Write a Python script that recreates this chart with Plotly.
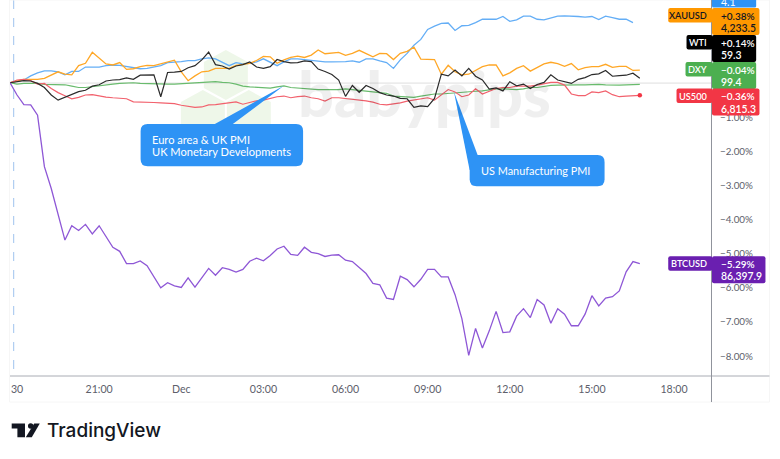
import pandas as pd
import plotly.graph_objects as go

START = "2025-11-30 17:45"
STEP = "15min"

xauusd = [0.01,0.06,0.11,0.11,0.11,0.14,0.23,0.33,0.26,0.24,0.51,0.58,0.90,0.72,0.56,0.53,0.60,0.40,0.42,0.48,0.52,0.51,0.56,0.62,0.67,0.33,0.07,0.21,0.33,0.35,0.43,0.43,0.43,0.52,0.55,0.58,0.66,0.78,0.77,0.58,0.68,0.75,0.79,0.75,0.82,0.97,0.86,0.87,0.90,0.81,0.87,0.96,0.87,0.77,0.87,0.86,
          0.69,0.87,0.93,1.05,0.70,0.69,0.69,0.26,0.52,0.33,0.24,0.26,0.37,0.48,0.53,0.53,0.21,0.30,0.43,0.51,0.35,0.45,0.56,0.61,0.57,0.49,0.57,0.39,0.45,0.48,0.48,0.55,0.46,0.49,0.49,0.37,0.38]
top_blue = [0.01,0.05,0.09,0.21,0.30,0.36,0.36,0.33,0.24,0.34,0.34,0.47,0.47,0.47,0.51,0.53,0.52,0.49,0.45,0.42,0.43,0.47,0.51,0.60,0.61,0.63,0.66,0.66,0.71,0.74,0.71,0.62,0.51,0.60,0.56,0.58,0.62,0.71,0.62,0.51,0.62,0.71,0.71,0.69,0.67,0.63,0.62,0.62,0.62,0.63,0.65,0.61,0.71,0.71,0.65,0.60,
            0.43,0.68,0.87,1.11,1.28,1.57,1.67,1.75,1.76,1.54,1.68,1.69,1.77,1.87,1.87,1.87,1.95,1.81,1.85,1.96,1.96,1.87,1.85,1.90,1.96,1.97,1.97,1.95,1.93,1.95,1.86,1.96,1.92,1.87,1.87,1.77]
wti = [0.01,0.04,0.07,0.06,-0.01,-0.13,-0.35,-0.50,-0.42,-0.33,-0.25,-0.21,-0.09,-0.05,0.06,0.09,0.10,0.15,0.11,0.23,0.24,0.24,-0.40,0.31,0.32,0.34,0.45,0.51,0.68,0.91,0.54,0.50,0.41,0.50,0.54,0.62,0.47,0.43,0.48,0.69,0.63,0.59,0.60,0.65,0.63,0.41,0.34,0.25,0.09,-0.39,-0.07,-0.27,-0.07,-0.16,-0.28,-0.35,
       -0.38,-0.45,-0.46,-0.71,-0.67,-0.69,-0.45,0.26,0.21,0.38,0.21,0.43,0.20,0.09,-0.18,-0.14,-0.23,0.04,-0.08,-0.03,-0.16,-0.04,0.02,0.24,0.09,0.04,-0.01,0.11,0.16,0.25,0.27,0.37,0.20,0.22,0.23,0.29,0.14]
dxy = [0.01,-0.03,-0.01,-0.01,-0.01,-0.04,-0.04,-0.05,-0.05,-0.09,-0.13,-0.13,-0.10,-0.07,-0.05,-0.03,-0.01,0.01,0.01,-0.01,-0.02,-0.02,-0.03,-0.03,-0.03,-0.02,-0.01,0.0,0.03,0.03,0.04,0.02,0.01,-0.03,-0.09,-0.11,-0.12,-0.15,-0.15,-0.11,-0.08,-0.13,-0.15,-0.17,-0.18,-0.19,-0.19,-0.20,-0.19,-0.17,-0.19,-0.23,-0.23,-0.25,-0.28,-0.30,
       -0.38,-0.40,-0.40,-0.42,-0.38,-0.35,-0.32,-0.32,-0.30,-0.29,-0.28,-0.26,-0.24,-0.23,-0.19,-0.17,-0.17,-0.19,-0.19,-0.17,-0.13,-0.13,-0.09,-0.07,-0.06,-0.05,-0.05,-0.05,-0.05,-0.04,-0.04,-0.05,-0.06,-0.06,-0.05,-0.04,-0.04]
us500 = [0.01,0.09,0.11,0.07,-0.03,-0.01,-0.16,-0.28,-0.37,-0.46,-0.42,-0.35,-0.34,-0.38,-0.41,-0.43,-0.45,-0.46,-0.55,-0.55,-0.56,-0.57,-0.58,-0.59,-0.60,-0.65,-0.69,-0.71,-0.70,-0.64,-0.63,-0.60,-0.57,-0.55,-0.62,-0.56,-0.52,-0.50,-0.45,-0.40,-0.38,-0.43,-0.40,-0.38,-0.43,-0.46,-0.53,-0.43,-0.43,-0.45,-0.48,-0.48,-0.52,-0.56,-0.62,-0.64,
         -0.62,-0.58,-0.53,-0.50,-0.45,-0.43,-0.50,-0.35,-0.19,-0.26,-0.40,-0.35,-0.17,-0.32,-0.25,-0.16,-0.13,-0.13,-0.09,-0.09,-0.09,-0.06,-0.01,0.02,0.02,-0.06,-0.32,-0.37,-0.37,-0.26,-0.28,-0.23,-0.34,-0.40,-0.38,-0.38,-0.36]
btcusd = [0.0,-0.35,-0.63,-0.64,-0.94,-2.45,-3.09,-3.82,-4.60,-4.18,-4.32,-4.14,-4.42,-4.18,-4.51,-4.81,-4.93,-5.29,-5.29,-5.21,-5.35,-5.68,-6.00,-5.85,-5.94,-5.99,-5.71,-5.98,-5.71,-5.43,-5.63,-5.41,-5.46,-5.54,-5.46,-5.22,-5.13,-5.21,-5.05,-4.86,-4.78,-5.02,-5.05,-4.81,-4.96,-5.00,-5.08,-5.04,-5.03,-5.19,-5.23,-5.41,-5.58,-5.87,-5.91,-6.30,
          -6.34,-5.66,-5.76,-5.97,-5.75,-5.46,-5.46,-5.68,-5.68,-6.20,-6.90,-7.98,-7.19,-7.76,-7.26,-6.69,-7.31,-7.29,-6.83,-6.61,-6.87,-6.34,-6.50,-7.04,-6.61,-6.77,-7.11,-7.11,-6.77,-6.23,-6.53,-6.30,-6.26,-6.09,-5.53,-5.23,-5.29]

y_ticks = [-1, -2, -3, -4, -5, -6, -7, -8]
y_labels = ["−1.00%", "−2.00%", "−3.00%", "−4.00%", "−5.00%", "−6.00%", "−7.00%", "−8.00%"]
x_ticks = ["2025-11-30 18:00", "2025-11-30 21:00", "2025-12-01 00:00", "2025-12-01 03:00", "2025-12-01 06:00",
           "2025-12-01 09:00", "2025-12-01 12:00", "2025-12-01 15:00", "2025-12-01 18:00"]
x_labels = ["30", "21:00", "Dec", "03:00", "06:00", "09:00", "12:00", "15:00", "18:00"]

W, H = 780, 459
L, R, B = 10.0, 711.5, 375.7
FONT = "Lato"


def fx(p):
    return (p - L) / (R - L)


def fy(p):
    return 1 - p / B


def path(points):
    return "M" + " L".join(f"{fx(a):.5f},{fy(b):.5f}" for a, b in points) + " Z"


def rrect(x0, y0, x1, y1, r, extra=None):
    """Rounded rectangle in pixels; extra inserts a pointer along the top edge."""
    extra = extra or {}
    s = f"M{fx(x0 + r):.5f},{fy(y0):.5f} "
    for a, b in extra.get("top", []):
        s += f"L{fx(a):.5f},{fy(b):.5f} "
    s += f"L{fx(x1 - r):.5f},{fy(y0):.5f} Q{fx(x1):.5f},{fy(y0):.5f} {fx(x1):.5f},{fy(y0 + r):.5f} "
    s += f"L{fx(x1):.5f},{fy(y1 - r):.5f} Q{fx(x1):.5f},{fy(y1):.5f} {fx(x1 - r):.5f},{fy(y1):.5f} "
    s += f"L{fx(x0 + r):.5f},{fy(y1):.5f} Q{fx(x0):.5f},{fy(y1):.5f} {fx(x0):.5f},{fy(y1 - r):.5f} "
    s += f"L{fx(x0):.5f},{fy(y0 + r):.5f} Q{fx(x0):.5f},{fy(y0):.5f} {fx(x0 + r):.5f},{fy(y0):.5f} Z"
    return s


shapes, notes = [], []


def add_path(d, color, layer="above"):
    shapes.append(dict(type="path", xref="paper", yref="paper", path=d, fillcolor=color, line=dict(width=0), layer=layer))


def add_line(x0, y0, x1, y1, color, width=1, dash="solid", layer="above"):
    shapes.append(dict(type="line", xref="paper", yref="paper", x0=fx(x0), x1=fx(x1), y0=fy(y0), y1=fy(y1),
                       line=dict(color=color, width=width, dash=dash), layer=layer))


def add_text(x, y, text, color, size=12, anchor="left", family=FONT, weight=None, opacity=1):
    font = dict(family=family, size=size, color=color)
    if weight:
        font["weight"] = weight
    notes.append(dict(xref="paper", yref="paper", x=fx(x), y=fy(y), text=text, showarrow=False,
                      xanchor=anchor, yanchor="middle", font=font, opacity=opacity, borderpad=0))


# Watermark hexagons
HEX = "#eef7e9"
for cx, top in [(226, 50), (203, 90), (249, 90)]:
    add_path(path([(cx, top), (cx + 22, top + 12), (cx + 22, top + 38), (cx, top + 50), (cx - 22, top + 38), (cx - 22, top + 12)]),
             HEX, "below")
# Zero line and start marker
add_line(L, 83, R, 83, "#dedede", 1, layer="below")
add_line(13.7, 0, 13.7, 373, "#9fc3ee", 1, "dash", "below")
# Panel frame and axes
shapes.append(dict(type="rect", xref="paper", yref="paper", x0=fx(9.5), x1=fx(770), y0=fy(0), y1=fy(401.7),
                   line=dict(color="#f6f6f6", width=1), layer="below"))
add_line(L, B, 770, B, "#a9acb4", 1)
add_line(712, 0, 712, 401.7, "#8f929b", 1)

# Callouts
CALL = "#2e93f5"
add_path(rrect(140.7, 124, 303.3, 166, 7, {"top": [(215, 124), (284, 85.7), (233, 124)]}), CALL)
add_path(rrect(470, 155, 605, 186, 7), CALL)
add_path(path([(454.3, 92), (478, 155), (470, 170)]), CALL)
add_text(151, 139, "Euro area &amp; UK PMI", "white", 11.1)
add_text(151, 151, "UK Monetary Developments", "white", 11.1)
add_text(480, 170, "US Manufacturing PMI", "white", 10.9)

# Price tags: name box, value box
tags = [
    ("XAUUSD", "+0.38%", "4,233.5", "#ff9800", "#131722", 668.7, 760, 8),
    ("WTI", "+0.14%", "59.3", "#000000", "white", 687, 756.7, 35),
    ("DXY", "−0.04%", "99.4", "#4caf50", "white", 686, 756.7, 62),
    ("US500", "−0.36%", "6,815.3", "#f23645", "white", 677, 760, 88.5),
    ("BTCUSD", "−5.29%", "86,397.9", "#6a1fb0", "white", 668.7, 766, 256),
]
add_path(rrect(712.5, -6, 756.7, 7.5, 1.5), "#2e93f5")
add_text(720.5, 2, "4.1", "white", 10.5)
for name, pct, val, col, txt, x0, x1, top in tags:
    add_path(rrect(x0, top, 713, top + 14.5, 2), col)
    add_path(rrect(712.5, top, x1, top + 27, 2), col)
    add_text(708.5, top + 7.5, name, txt, 9.2, "right", weight=600)
    add_text(720.5, top + 7.5, pct, txt, 10, weight=600)
    add_text(720.5, top + 20, val, txt, 10.4, weight=600)

# Watermark text
add_text(297, 92, "babypips", "#000000", 63, family="Lato", weight=900, opacity=0.06)

# TradingView logo
INK = "#131722"
add_path(path([(11.7, 423.2), (25, 423.2), (25, 436.8), (17.4, 436.8), (17.4, 428.2), (11.7, 428.2)]), INK)
shapes.append(dict(type="circle", xref="paper", yref="paper", x0=fx(28), x1=fx(33.4), y0=fy(423), y1=fy(428.4),
                   fillcolor=INK, line=dict(width=0), layer="above"))
add_path(path([(34.2, 423.2), (39.8, 423.2), (31.8, 436.8), (25.8, 436.8)]), INK)
add_text(46.5, 430.5, "TradingView", INK, 19, family="Inter", weight=500)

times = pd.date_range(START, periods=len(xauusd), freq=STEP)
series = [
    ("Blue", top_blue, "#64aef6", 1.3),
    ("XAUUSD", xauusd, "#ffa726", 1.3),
    ("DXY", dxy, "#69bb6d", 1.2),
    ("US500", us500, "#f2616d", 1.2),
    ("WTI", wti, "#2b2b2b", 1.2),
    ("BTCUSD", btcusd, "#8e57d6", 1.3),
]

fig = go.Figure()
for name, vals, col, w in series:
    fig.add_trace(go.Scatter(x=times[:len(vals)], y=vals, mode="lines", name=name,
                             line=dict(color=col, width=w), showlegend=False))
fig.add_trace(go.Scatter(x=[times[len(us500) - 1]], y=[us500[-1]], mode="markers", showlegend=False,
                         marker=dict(color="#f23645", size=4.5)))

hours_left = pd.Timestamp(START) - pd.Timedelta(minutes=0.4)
fig.update_layout(
    width=W, height=H, autosize=False, showlegend=False,
    margin=dict(l=L, r=W - R, t=0, b=H - B, pad=0),
    paper_bgcolor="white", plot_bgcolor="rgba(0,0,0,0)",
    shapes=shapes, annotations=notes,
    xaxis=dict(range=[hours_left, pd.Timestamp("2025-12-01 19:21")], tickvals=x_ticks, ticktext=x_labels,
               showgrid=False, zeroline=False, showline=False, ticks="outside", ticklen=3, tickcolor="rgba(0,0,0,0)",
               tickfont=dict(family=FONT, size=10.6, color="#5d606b")),
    yaxis=dict(range=[-8.583, 2.434], side="right", tickvals=y_ticks, ticktext=y_labels,
               showgrid=False, zeroline=False, showline=False, ticks="outside", ticklen=6, tickcolor="rgba(0,0,0,0)",
               tickfont=dict(family=FONT, size=9.8, color="#5d606b")),
)
fig.write_html("out.html", config={"displayModeBar": False},
               post_script="document.body.style.margin='0';document.body.style.overflow='hidden';")
